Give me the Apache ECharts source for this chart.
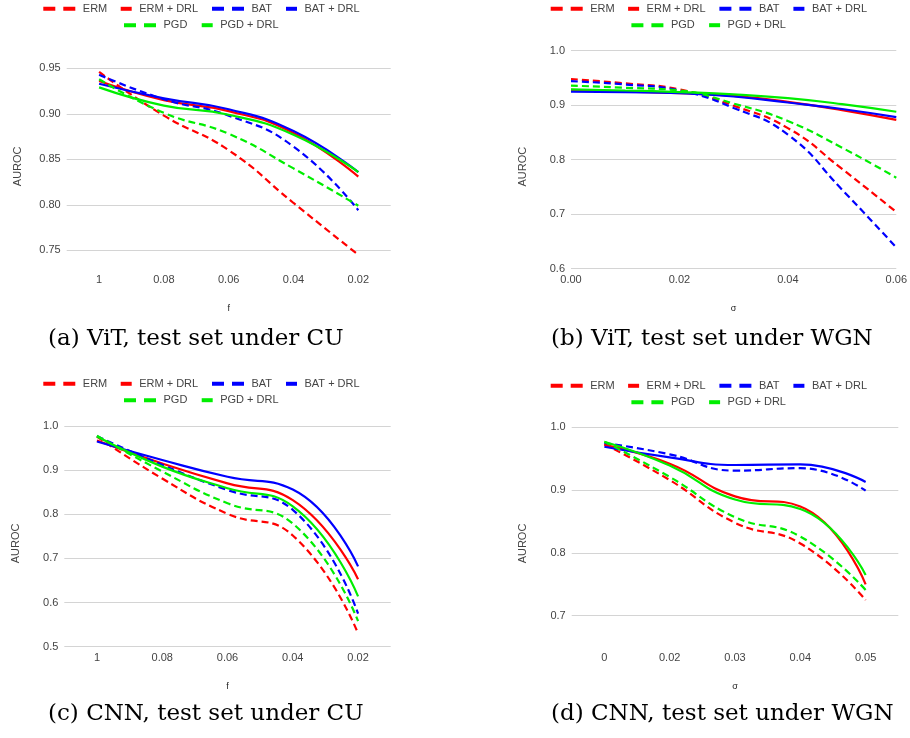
<!DOCTYPE html>
<html>
<head>
<meta charset="utf-8">
<script src="https://cdn.jsdelivr.net/npm/echarts@6/dist/echarts.min.js"></script>
<style>
  html, body { margin: 0; padding: 0; background: #fff; }
  #chart { width: 910px; height: 738px; }
</style>
</head>
<body>
<div id="chart"></div>
<script>
// ---- data ----
const methods = ['ERM', 'ERM + DRL', 'BAT', 'BAT + DRL', 'PGD', 'PGD + DRL'];

// (a) ViT, CU
const catA = ['1', '0.08', '0.06', '0.04', '0.02'];
const vitCuErm    = [0.946, 0.898, 0.860, 0.802, 0.745];
const vitCuErmDrl = [0.936, 0.915, 0.903, 0.879, 0.831];
const vitCuBat    = [0.943, 0.916, 0.898, 0.864, 0.794];
const vitCuBatDrl = [0.933, 0.917, 0.905, 0.881, 0.836];
const vitCuPgd    = [0.938, 0.901, 0.878, 0.840, 0.799];
const vitCuPgdDrl = [0.929, 0.909, 0.899, 0.877, 0.836];

// (b) ViT, WGN (numeric sigma)
const sigmaB = [0, 0.01, 0.02, 0.03, 0.04, 0.05, 0.06];
const vitWgnErm    = [0.948, 0.940, 0.929, 0.899, 0.858, 0.783, 0.704];
const vitWgnErmDrl = [0.928, 0.925, 0.922, 0.917, 0.906, 0.891, 0.873];
const vitWgnBat    = [0.944, 0.938, 0.927, 0.895, 0.846, 0.745, 0.639];
const vitWgnBatDrl = [0.925, 0.924, 0.922, 0.916, 0.905, 0.893, 0.878];
const vitWgnPgd    = [0.936, 0.932, 0.927, 0.903, 0.871, 0.822, 0.767];
const vitWgnPgdDrl = [0.929, 0.927, 0.924, 0.920, 0.913, 0.902, 0.888];

// (c) CNN, CU
const catC = ['1', '0.08', '0.06', '0.04', '0.02'];
const cnnCuErm    = [0.976, 0.881, 0.801, 0.752, 0.530];
const cnnCuErmDrl = [0.967, 0.915, 0.870, 0.832, 0.653];
const cnnCuBat    = [0.977, 0.912, 0.855, 0.810, 0.575];
const cnnCuBatDrl = [0.965, 0.923, 0.885, 0.856, 0.682];
const cnnCuPgd    = [0.978, 0.897, 0.825, 0.779, 0.558];
const cnnCuPgdDrl = [0.976, 0.908, 0.859, 0.818, 0.614];

// (d) CNN, WGN
const catD = ['0', '0.02', '0.03', '0.04', '0.05'];
const cnnWgnErm    = [0.973, 0.916, 0.848, 0.815, 0.725];
const cnnWgnErmDrl = [0.972, 0.942, 0.890, 0.874, 0.750];
const cnnWgnBat    = [0.975, 0.957, 0.931, 0.935, 0.899];
const cnnWgnBatDrl = [0.969, 0.952, 0.940, 0.941, 0.913];
const cnnWgnPgd    = [0.977, 0.921, 0.857, 0.826, 0.741];
const cnnWgnPgdDrl = [0.977, 0.939, 0.885, 0.870, 0.765];

const captions = ['(a) ViT, test set under CU', '(b) ViT, test set under WGN',
                  '(c) CNN, test set under CU', '(d) CNN, test set under WGN'];
const xNames = ['f', 'σ', 'f', 'σ'];

// ---- styles ----
const colors = ['#ff0000', '#ff0000', '#0000ff', '#0000ff', '#00ee00', '#00ee00'];
const dashed = [true, false, true, false, true, false];
const font = 'Liberation Sans, Arial, sans-serif';
const DASH_ICON = 'path://M0,0H12V4H0Z M20,0H32V4H20Z';

const panelData = [
  [vitCuErm, vitCuErmDrl, vitCuBat, vitCuBatDrl, vitCuPgd, vitCuPgdDrl],
  [vitWgnErm, vitWgnErmDrl, vitWgnBat, vitWgnBatDrl, vitWgnPgd, vitWgnPgdDrl],
  [cnnCuErm, cnnCuErmDrl, cnnCuBat, cnnCuBatDrl, cnnCuPgd, cnnCuPgdDrl],
  [cnnWgnErm, cnnWgnErmDrl, cnnWgnBat, cnnWgnBatDrl, cnnWgnPgd, cnnWgnPgdDrl]
];

const grids = [
  { left: 66.7, top: 68.3, width: 324, height: 182 },
  { left: 571, top: 50.7, width: 327.3, height: 218 },
  { left: 64.3, top: 426, width: 326.4, height: 220.7 },
  { left: 571.7, top: 427.3, width: 326.6, height: 188.4 }
];
const yRange = [[0.75, 0.95, 0.05], [0.6, 1.0, 0.1], [0.5, 1.0, 0.1], [0.7, 1.0, 0.1]];
const xLabelMargin = [24, 6, 6, 36.5];
const xNameGap = [54, 35, 35, 66];
const yNameShift = [14, 14, 14, 44];

// legend slot offsets relative to the first icon of each panel
const legendSlots = [[0, 0], [77.4, 0], [168.7, 0], [242.7, 0], [80.7, 16.4], [158.4, 16.4]];
const legendOrigins = [[43.3, 9.3], [550.7, 9.3], [43.3, 384.3], [550.7, 386.3]];
const captionPos = [[48, 342], [551, 342], [48, 717], [551, 717]];

const legends = [];
legendOrigins.forEach(function (o) {
  methods.forEach(function (m, i) {
    legends.push({
      left: o[0] + legendSlots[i][0],
      top: o[1] + legendSlots[i][1] - 6,
      padding: 0,
      selectedMode: false,
      itemWidth: dashed[i] ? 32 : 11,
      itemHeight: 4,
      itemStyle: { borderWidth: 0 },
      data: [{ name: m, icon: dashed[i] ? DASH_ICON : 'rect' }],
      textStyle: { fontFamily: font, fontSize: 11, color: '#444', padding: [0, 0, 0, 2.5] }
    });
  });
});

const xAxes = [0, 1, 2, 3].map(function (p) {
  const base = {
    gridIndex: p,
    name: xNames[p],
    nameLocation: 'middle',
    nameGap: xNameGap[p],
    nameTextStyle: { fontFamily: font, fontSize: 9, color: '#222' },
    axisLine: { show: false },
    axisTick: { show: false },
    splitLine: { show: false },
    axisLabel: { fontFamily: font, fontSize: 11, color: '#444', margin: xLabelMargin[p] }
  };
  if (p === 1) {
    base.type = 'value';
    base.min = 0; base.max = 0.06; base.interval = 0.02;
    base.axisLabel.formatter = function (v) { return v.toFixed(2); };
  } else {
    base.type = 'category';
    base.boundaryGap = true;
    base.data = [catA, null, catC, catD][p];
  }
  return base;
});

const yAxes = [0, 1, 2, 3].map(function (p) {
  return {
    type: 'value',
    gridIndex: p,
    min: yRange[p][0], max: yRange[p][1], interval: yRange[p][2],
    name: 'AUROC',
    nameLocation: 'middle',
    nameGap: 43,
    nameTextStyle: { fontFamily: font, fontSize: 11, color: '#444', padding: [0, yNameShift[p], 0, 0] },
    axisLine: { show: false },
    axisTick: { show: false },
    splitLine: { lineStyle: { color: '#d4d4d4', width: 1 } },
    axisLabel: {
      fontFamily: font, fontSize: 11, color: '#444', margin: 6,
      formatter: function (v) { return v.toFixed(p === 0 ? 2 : 1); }
    }
  };
});

const series = [];
panelData.forEach(function (rows, p) {
  rows.forEach(function (vals, i) {
    series.push({
      type: 'line',
      name: methods[i],
      xAxisIndex: p,
      yAxisIndex: p,
      data: p === 1 ? vals.map(function (v, k) { return [sigmaB[k], v]; }) : vals,
      color: colors[i],
      smooth: 0.5,
      symbol: 'none',
      clip: false,
      lineStyle: { width: 2.2, color: colors[i], type: dashed[i] ? [7, 4] : 'solid' }
    });
  });
});

const titles = captions.map(function (c, p) {
  return {
    text: c,
    left: captionPos[p][0],
    top: captionPos[p][1] - 14,
    padding: 0,
    textStyle: { fontFamily: 'DejaVu Serif, serif', fontSize: 23, fontWeight: 'normal', color: '#000' }
  };
});

const chart = echarts.init(document.getElementById('chart'));
chart.setOption({
  animation: false,
  backgroundColor: '#fff',
  title: titles,
  legend: legends,
  grid: grids,
  xAxis: xAxes,
  yAxis: yAxes,
  series: series
});
</script>
</body>
</html>
